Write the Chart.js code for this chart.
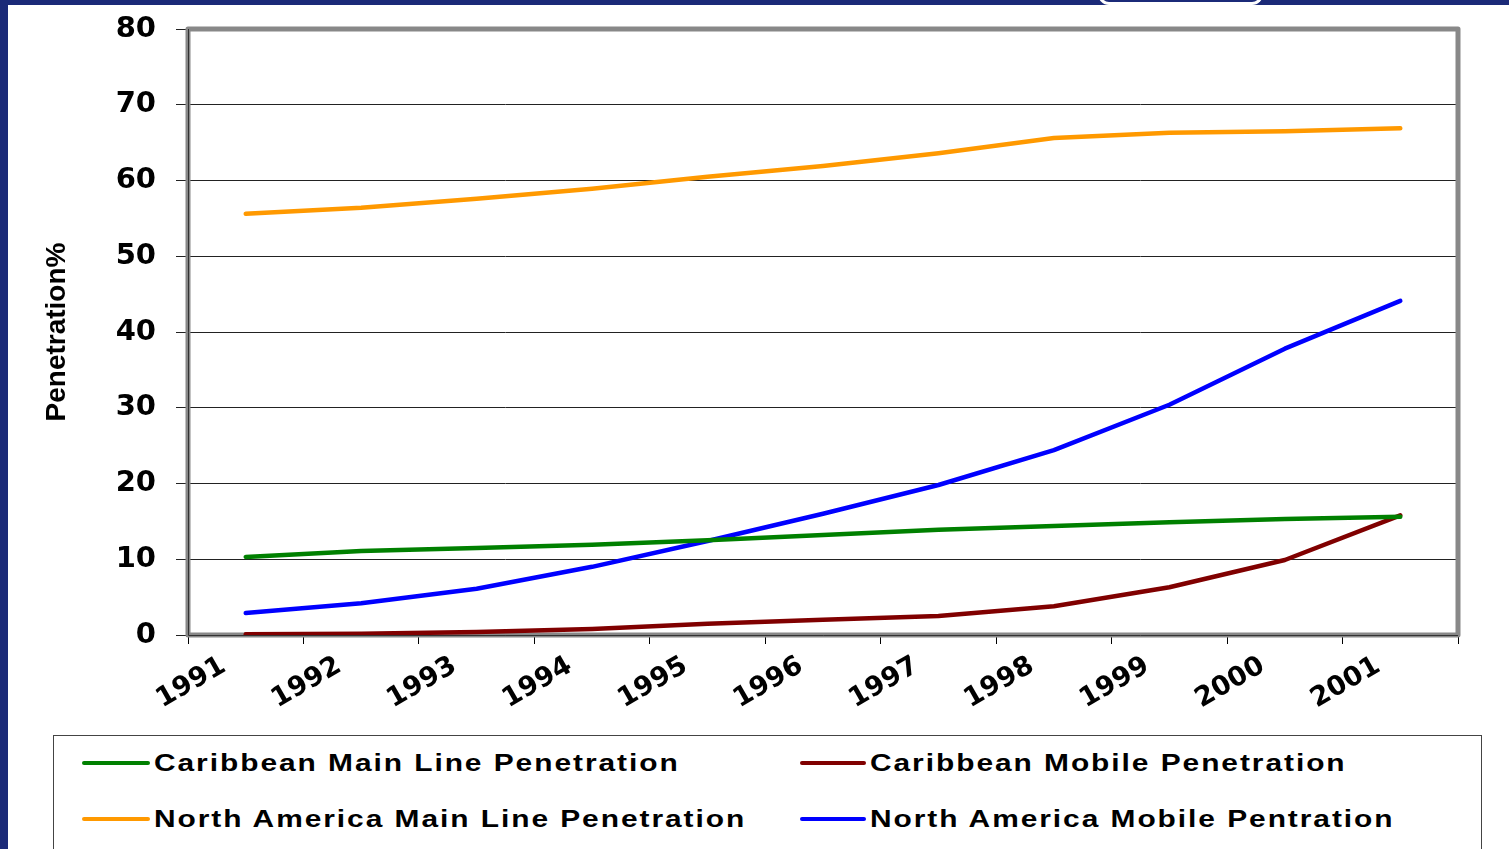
<!DOCTYPE html>
<html>
<head>
<meta charset="utf-8">
<script src="https://cdn.jsdelivr.net/npm/chart.js@4"></script>
<style>
  html, body { margin: 0; padding: 0; background: #fff; }
  body { width: 1509px; height: 849px; position: relative; overflow: hidden; }
  .navy-left { position: absolute; left: 0; top: 0; width: 8px; height: 849px; background: #1b2a78; }
  .navy-top { position: absolute; left: 0; top: 0; width: 1509px; height: 5px; background: #1b2a78; }
  .notch { position: absolute; left: 1098px; top: -6px; width: 159px; height: 8px; border: 3px solid #fff; border-top: none; border-radius: 0 0 16px 16px; }
  #wrap { position: absolute; left: 0; top: 0; width: 1509px; height: 849px; }
  #legend { position: absolute; left: 53px; top: 735px; width: 1427px; height: 130px; border: 1px solid #444; background: #fff; }
  .item { position: absolute; height: 30px; }
  .swatch { position: absolute; left: 0; top: 13px; height: 4px; border-radius: 2px; }
  .label { position: absolute; top: 0; white-space: nowrap; font: bold 23px "Liberation Sans", Arial, sans-serif;
           letter-spacing: 1.5px; line-height: 30px; transform: scaleX(1.3); transform-origin: left center; color: #000; }
</style>
</head>
<body>
<div id="wrap"><canvas id="chart" width="1509" height="849"></canvas></div>
<div class="navy-left"></div>
<div class="navy-top"></div>
<div class="notch"></div>
<div id="legend"></div>
<script>
const years = ["1991", "1992", "1993", "1994", "1995", "1996", "1997", "1998", "1999", "2000", "2001"];
const caribbeanMain = [10.3, 11.1, 11.5, 11.9, 12.5, 13.2, 13.9, 14.4, 14.9, 15.3, 15.6];
const caribbeanMobile = [0.1, 0.15, 0.4, 0.8, 1.5, 2.0, 2.5, 3.8, 6.3, 9.9, 15.8];
const naMain = [55.6, 56.4, 57.6, 58.9, 60.5, 61.9, 63.6, 65.6, 66.3, 66.5, 66.9];
const naMobile = [2.9, 4.2, 6.1, 9.0, 12.4, 16.0, 19.8, 24.4, 30.4, 37.8, 44.1];

const seriesNames = [
  "Caribbean Main Line Penetration",
  "Caribbean Mobile Penetration",
  "North America Main Line Penetration",
  "North America Mobile Pentration",
];
const seriesColors = ["#008000", "#800000", "#ff9900", "#0000ff"];
const seriesData = [caribbeanMain, caribbeanMobile, naMain, naMobile];

// gray excel-style frame round the plot area
const plotFrame = {
  id: "plotFrame",
  beforeDatasetsDraw(chart) {
    const { ctx, chartArea } = chart;
    const { left, right, top, bottom } = chartArea;
    ctx.save();
    ctx.strokeStyle = "#888";
    ctx.lineWidth = 5;
    ctx.lineJoin = "round";
    ctx.strokeRect(left, top, right - left, bottom - top);
    ctx.strokeStyle = "#333";
    ctx.lineWidth = 1;
    ctx.beginPath();
    ctx.moveTo(left + 0.5, top);
    ctx.lineTo(left + 0.5, bottom + 0.5);
    ctx.lineTo(right, bottom + 0.5);
    ctx.stroke();
    ctx.restore();
  },
};

const chart = new Chart(document.getElementById("chart"), {
  type: "line",
  data: {
    labels: years,
    datasets: seriesNames.map((name, i) => ({
      label: name,
      data: seriesData[i],
      borderColor: seriesColors[i],
      backgroundColor: seriesColors[i],
      borderWidth: 4.5,
      borderCapStyle: "round",
      borderJoinStyle: "round",
      pointRadius: 0,
      tension: 0,
      fill: false,
    })),
  },
  options: {
    responsive: false,
    animation: false,
    layout: { padding: { top: 29, left: 30, right: 51, bottom: 0 } },
    plugins: {
      legend: { display: false },
      tooltip: { enabled: false },
    },
    scales: {
      x: {
        offset: true,
        grid: { offset: true, drawOnChartArea: false, color: "#000", tickLength: 9 },
        border: { display: false },
        ticks: {
          autoSkip: false,
          minRotation: 30,
          maxRotation: 30,
          labelOffset: -22,
          padding: 6,
          color: "#000",
          font: { family: "DejaVu Sans", weight: "bold", size: 27 },
        },
        afterFit(scale) { scale.height = 214; },
      },
      y: {
        min: 0,
        max: 80,
        ticks: {
          stepSize: 10,
          padding: 20,
          color: "#000",
          font: { family: "DejaVu Sans", weight: "bold", size: 29 },
        },
        grid: { color: "#222", lineWidth: 1, tickLength: 12 },
        border: { display: false },
        title: {
          display: true,
          text: "Penetration%",
          color: "#000",
          padding: { top: 10, bottom: 0 },
          font: { family: "Liberation Sans", weight: "bold", size: 28 },
        },
        afterFit(scale) {
          scale.width = 158;
          scale.paddingTop = 0;
          scale.paddingBottom = 0;
        },
      },
    },
  },
  plugins: [plotFrame],
});

// html legend in two columns, built from the chart datasets
const legend = document.getElementById("legend");
const spots = [[28, 12], [746, 12], [28, 68], [746, 68]];
chart.data.datasets.forEach((ds, i) => {
  const item = document.createElement("div");
  item.className = "item";
  item.style.left = spots[i][0] + "px";
  item.style.top = spots[i][1] + "px";
  const sw = document.createElement("div");
  sw.className = "swatch";
  sw.style.width = (i % 2 === 0 ? 68 : 66) + "px";
  sw.style.background = ds.borderColor;
  const lb = document.createElement("div");
  lb.className = "label";
  lb.style.left = (i % 2 === 0 ? 72 : 70) + "px";
  lb.textContent = ds.label;
  item.appendChild(sw);
  item.appendChild(lb);
  legend.appendChild(item);
});
</script>
</body>
</html>
